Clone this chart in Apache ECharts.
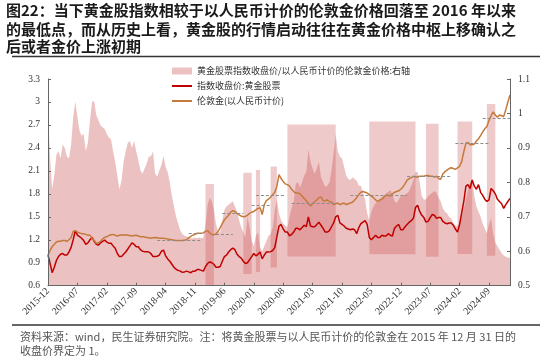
<!DOCTYPE html>
<html><head><meta charset="utf-8">
<script src="https://cdn.jsdelivr.net/npm/echarts@6/dist/echarts.min.js"></script>
<style>html,body{margin:0;padding:0;background:#fff}#c{width:550px;height:362px}</style>
</head><body><div id="c"></div>
<script>
const titleLines = [
  '图22：当下黄金股指数相较于以人民币计价的伦敦金价格回落至 2016 年以来',
  '的最低点，而从历史上看，黄金股的行情启动往往在黄金价格中枢上移确认之',
  '后或者金价上涨初期'
];
const footerLines = [
  '资料来源：wind，民生证券研究院。注：将黄金股票与以人民币计价的伦敦金在 2015 年 12 月 31 日的',
  '收盘价界定为 1。'
];
const legendNames = ['黄金股票指数收盘价/以人民币计价的伦敦金价格:右轴', '指数收盘价:黄金股票', '伦敦金(以人民币计价)'];

// semi-monthly categories from 2015-12 to 2025-02
const categories = [];
for (let k = 0; k <= 110; k++) {
  const y = 2015 + Math.floor((11 + k) / 12);
  const mm = String(((11 + k) % 12) + 1).padStart(2, '0');
  if (k > 0) categories.push(y + '-' + mm + '-15');
  categories.push(y + '-' + mm + '-28');
}

const gold = [
1.00,1.06,1.11,1.14,1.17,1.18,1.18,1.19,1.19,1.18,
1.20,1.23,1.31,1.32,1.30,1.29,1.28,1.28,1.27,1.26,
1.26,1.22,1.19,1.155,1.16,1.18,1.21,1.23,1.24,1.255,
1.265,1.27,1.26,1.25,1.26,1.265,1.26,1.265,1.26,1.255,
1.25,1.255,1.26,1.25,1.24,1.24,1.235,1.23,1.225,1.22,
1.225,1.23,1.225,1.22,1.22,1.22,1.215,1.21,1.205,1.20,
1.195,1.19,1.19,1.19,1.19,1.195,1.20,1.225,1.245,1.26,
1.27,1.285,1.285,1.285,1.29,1.31,1.32,1.29,1.27,1.265,
1.275,1.31,1.36,1.41,1.46,1.49,1.52,1.56,1.58,1.57,
1.545,1.525,1.51,1.50,1.505,1.52,1.545,1.56,1.57,1.59,
1.61,1.62,1.53,1.66,1.71,1.73,1.76,1.79,1.82,1.90,
2.05,2.00,1.96,1.93,1.92,1.90,1.86,1.83,1.81,1.81,
1.80,1.77,1.74,1.71,1.67,1.64,1.67,1.70,1.72,1.75,
1.76,1.71,1.71,1.72,1.70,1.69,1.66,1.67,1.68,1.66,
1.67,1.68,1.66,1.67,1.68,1.69,1.72,1.75,1.79,1.82,
1.83,1.82,1.81,1.79,1.77,1.75,1.72,1.70,1.72,1.73,
1.76,1.78,1.78,1.77,1.80,1.82,1.83,1.84,1.86,1.89,
1.93,1.98,2.00,2.01,2.03,2.02,2.02,2.03,2.03,2.03,
2.04,2.04,2.03,2.03,2.02,2.03,2.00,1.99,2.06,2.09,
2.11,2.13,2.14,2.13,2.12,2.14,2.16,2.22,2.35,2.46,
2.47,2.44,2.44,2.45,2.49,2.52,2.56,2.61,2.65,2.68,
2.76,2.82,2.87,2.83,2.80,2.83,2.82,2.81,2.90,3.00,
3.09];

const stock = [
1.00,0.89,0.77,0.84,0.93,0.98,1.01,1.02,1.00,1.00,
1.04,1.10,1.20,1.32,1.26,1.24,1.22,1.19,1.14,1.16,
1.20,1.23,1.18,1.14,1.13,1.16,1.18,1.195,1.17,1.155,
1.155,1.12,1.09,1.02,0.98,0.98,1.01,1.04,1.08,1.12,
1.16,1.14,1.11,1.11,1.07,1.05,1.045,1.045,1.04,1.02,
0.98,0.98,0.985,1.00,1.05,1.065,0.99,0.95,0.92,0.88,
0.84,0.815,0.80,0.79,0.775,0.78,0.79,0.78,0.77,0.79,
0.79,0.81,0.81,0.80,0.79,0.85,0.89,0.91,0.90,0.88,
0.84,0.84,0.85,0.92,0.98,1.00,1.04,1.07,1.09,1.07,
1.01,0.98,0.96,0.92,0.89,0.90,0.94,0.98,1.02,0.99,
1.01,1.04,0.95,1.00,1.04,1.04,1.045,1.06,1.10,1.24,
1.38,1.40,1.34,1.30,1.30,1.25,1.27,1.30,1.35,1.35,
1.33,1.36,1.39,1.37,1.50,1.38,1.37,1.37,1.40,1.43,
1.39,1.35,1.30,1.30,1.32,1.37,1.42,1.50,1.52,1.42,
1.40,1.38,1.35,1.34,1.33,1.34,1.33,1.28,1.36,1.41,
1.43,1.45,1.40,1.23,1.20,1.23,1.26,1.23,1.23,1.26,
1.25,1.25,1.28,1.26,1.25,1.35,1.38,1.40,1.33,1.33,
1.37,1.40,1.43,1.45,1.48,1.62,1.65,1.57,1.52,1.49,
1.43,1.44,1.49,1.53,1.52,1.48,1.49,1.49,1.44,1.42,
1.41,1.42,1.42,1.39,1.34,1.30,1.40,1.55,1.70,1.90,
1.92,1.87,1.98,1.90,1.86,1.92,1.82,1.78,1.73,1.70,
1.72,1.87,1.84,1.80,1.73,1.70,1.67,1.61,1.66,1.70,
1.74];

const ratio = [
1.00,0.87,0.78,0.82,0.88,0.89,0.87,0.91,0.90,0.875,
0.87,0.91,0.99,1.035,0.99,0.95,0.935,0.94,0.89,0.915,
0.98,1.035,1.035,0.995,0.98,0.965,0.96,0.955,0.94,0.93,
0.925,0.89,0.86,0.82,0.78,0.805,0.86,0.89,0.915,0.92,
0.90,0.92,0.89,0.865,0.835,0.825,0.84,0.855,0.875,0.875,
0.89,0.826,0.816,0.835,0.85,0.877,0.845,0.83,0.80,0.76,
0.73,0.70,0.68,0.66,0.65,0.645,0.643,0.64,0.638,0.638,
0.64,0.638,0.64,0.638,0.64,0.68,0.735,0.755,0.745,0.72,
0.68,0.655,0.655,0.69,0.72,0.73,0.735,0.74,0.745,0.73,
0.715,0.69,0.67,0.655,0.64,0.70,0.67,0.63,0.615,0.645,
0.655,0.61,0.60,0.615,0.63,0.645,0.65,0.67,0.72,0.75,
0.71,0.69,0.68,0.675,0.67,0.70,0.725,0.745,0.795,0.80,
0.785,0.80,0.82,0.83,0.895,0.86,0.84,0.825,0.84,0.86,
0.815,0.80,0.787,0.79,0.80,0.835,0.885,0.94,0.89,0.875,
0.87,0.845,0.82,0.81,0.807,0.815,0.81,0.805,0.79,0.79,
0.77,0.75,0.71,0.69,0.715,0.73,0.74,0.745,0.75,0.757,
0.762,0.768,0.772,0.778,0.765,0.745,0.74,0.75,0.76,0.762,
0.765,0.768,0.775,0.79,0.807,0.83,0.83,0.80,0.76,0.75,
0.75,0.76,0.765,0.77,0.775,0.77,0.755,0.745,0.725,0.715,
0.71,0.70,0.695,0.682,0.675,0.672,0.685,0.70,0.725,0.75,
0.778,0.80,0.81,0.76,0.73,0.715,0.70,0.68,0.665,0.652,
0.68,0.695,0.65,0.625,0.615,0.605,0.595,0.588,0.584,0.582,
0.58];

// highlighted periods: [startIndex, endIndex, low, high] on left axis
const rallyPeriods = [
  [75, 79, 0.6, 1.93], [93, 97, 0.753, 2.077], [99, 101, 0.78, 2.112], [106, 109, 0.838, 2.156],
  [114, 137, 0.982, 2.707], [153, 175, 1.012, 2.744], [180, 186, 0.979, 2.714],
  [195, 202, 1.014, 2.744], [209, 213, 0.992, 2.975]
];
// gold price pivot levels: [startIndex, endIndex, level]
const pivots = [
  [52, 73, 1.197], [67, 74, 1.28], [80, 88, 1.276], [83, 93, 1.54], [97, 106, 1.655],
  [99, 113, 1.786], [116, 137, 1.677], [144, 171, 1.786], [171, 192, 2.03],
  [194, 210, 2.455], [207, 220, 2.79]
];

const serif = '"Liberation Serif", "DejaVu Serif", serif';
const cjk = '"Noto Sans CJK SC", sans-serif';
const lineIcon = 'path://M0,0M0,2.5H20V4.5H0ZM20,7';
const titleY = [10.5, 29, 46.5];
const chart = echarts.init(document.getElementById('c'));
chart.setOption({
  animation: false,
  backgroundColor: '#fff',
  legend: {
    orient: 'vertical', left: 167, top: 61.5, itemWidth: 20, itemHeight: 7, itemGap: 6,
    textStyle: { fontSize: 9, color: '#333', fontFamily: cjk },
    data: [{ name: legendNames[0], icon: 'rect' }, { name: legendNames[1], icon: lineIcon }, { name: legendNames[2], icon: lineIcon }]
  },
  grid: { left: 48, right: 40, top: 79, bottom: 76.3 },
  xAxis: {
    type: 'category', data: categories, boundaryGap: false, z: 4,
    axisLine: { lineStyle: { color: '#666' } },
    axisTick: { inside: true, interval: 13, length: 3, lineStyle: { color: '#666' } },
    axisLabel: { interval: 13, rotate: 45, fontSize: 10, fontFamily: serif, color: '#333', margin: 4,
      formatter: v => v.slice(0, 7) },
    splitLine: { show: false }
  },
  yAxis: [
    { type: 'value', min: 0.6, max: 3.3, interval: 0.3, z: 4,
      axisLine: { show: true, lineStyle: { color: '#666' } },
      axisTick: { show: true, inside: true, length: 3, lineStyle: { color: '#666' } },
      axisLabel: { fontSize: 9.5, fontFamily: serif, color: '#333', margin: 8 },
      splitLine: { show: false } },
    { type: 'value', min: 0.5, max: 1.1, interval: 0.1, z: 4,
      axisLine: { show: true, lineStyle: { color: '#666' } },
      axisTick: { show: true, inside: true, length: 3, lineStyle: { color: '#666' } },
      axisLabel: { fontSize: 9.5, fontFamily: serif, color: '#333', margin: 8 },
      splitLine: { show: false } }
  ],
  series: [
    { name: legendNames[0], type: 'line', yAxisIndex: 1, data: ratio, symbol: 'none', z: 0,
      lineStyle: { width: 0 }, itemStyle: { color: '#ecc1c1' }, areaStyle: { color: '#ecc1c1', opacity: 1 } },
    { name: legendNames[1], type: 'line', data: stock, symbol: 'none', z: 3,
      lineStyle: { width: 1.5, color: '#c00000' }, itemStyle: { color: '#c00000' },
      markArea: { silent: true, z: 1, itemStyle: { color: 'rgba(203,80,80,0.3)' },
        data: rallyPeriods.map(p => [{ coord: [p[0], p[2]] }, { coord: [p[1], p[3]] }]) } },
    { name: legendNames[2], type: 'line', data: gold, symbol: 'none', z: 3,
      lineStyle: { width: 1.5, color: '#c47a3b' }, itemStyle: { color: '#c47a3b' },
      markLine: { silent: true, symbol: ['none', 'none'], label: { show: false },
        lineStyle: { color: '#8c8c8c', type: [3, 2], width: 1 },
        data: pivots.map(p => [{ coord: [p[0], p[2]] }, { coord: [p[1], p[2]] }]) } }
  ],
  graphic: titleLines.map((t, i) => ({
    type: 'text', x: 6, y: titleY[i],
    style: { text: t, fontSize: 15, fontWeight: 'bold', fontFamily: cjk, fill: '#1a1a1a', verticalAlign: 'middle' }
  })).concat([
    { type: 'line', shape: { x1: 12, y1: 56.5, x2: 540, y2: 56.5 }, style: { stroke: '#333', lineWidth: 1.5 } },
    { type: 'line', shape: { x1: 12, y1: 325, x2: 540, y2: 325 }, style: { stroke: '#333', lineWidth: 1.5 } },
    { type: 'text', x: 20, y: 330, style: { text: footerLines.join('\n'), fontSize: 11, lineHeight: 14,
      fill: '#555', fontFamily: cjk } }
  ])
});
</script></body></html>
